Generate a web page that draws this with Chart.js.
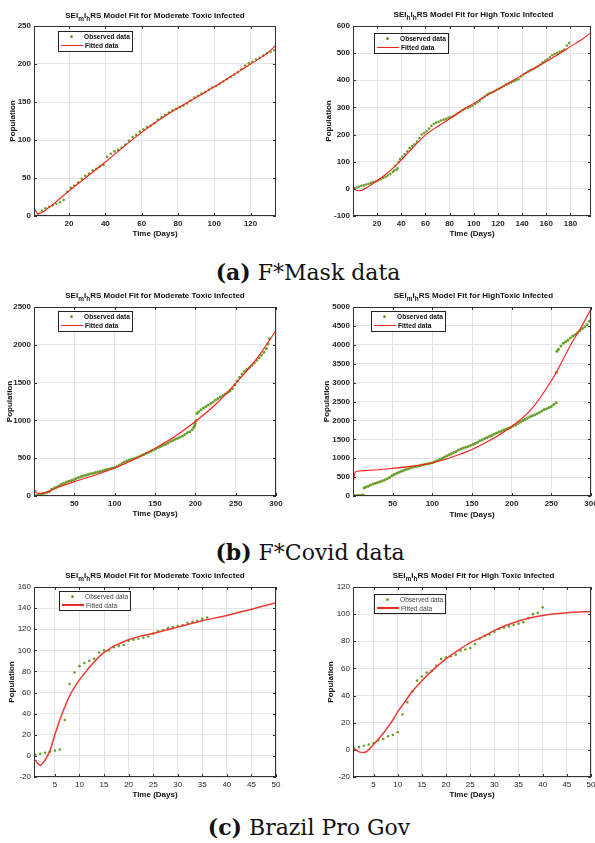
<!DOCTYPE html>
<html>
<head>
<meta charset="utf-8">
<script src="https://cdn.jsdelivr.net/npm/chart.js@4.4.1/dist/chart.umd.min.js"></script>
<style>
body { margin:0; width:595px; height:843px; position:relative; background:#fff; overflow:hidden;
       font-family:"Liberation Sans", Arial, sans-serif; }
canvas { position:absolute; }
.ttl { position:absolute; font-weight:bold; font-size:8px; line-height:10px; color:#111; white-space:nowrap; transform:translateX(-50%); }
.ttl sub { font-size:6.5px; vertical-align:-3px; line-height:0; }
.leg { position:absolute; box-sizing:border-box; border:1px solid #222; background:#fff; font-size:6.6px; color:#111; }
.leg.b { font-weight:bold; }
.leg.n { color:#444; }
.leg span { position:absolute; white-space:nowrap; line-height:8px; }
.dot { width:3px; height:3px; border-radius:50%; background:#6a9f2c; }
.cap { position:absolute; font-family:"DejaVu Serif", "Liberation Serif", serif; font-size:22px; line-height:24px; white-space:nowrap; transform:translateX(-50%); color:#111; }
</style>
</head>
<body>
<script>
// ---------------------------------------------------------------------------
// DONNÉES
// ---------------------------------------------------------------------------

// (a) F*Mask - moderate
const c1ObsDays = [1,3,5,7,9,11,13,15,17,19,21,23,25,27,29,31,33,35,37,39,41,43,45,47,49,51,53,55,57,59,61,63,65,67,69,71,73,75,77,79,81,83,85,87,89,91,93,95,97,99,101,103,105,107,109,111,113,115,117,119,121,123,125,127,129,131,133];
const c1ObsVals = [1,3,7,10,12,14,16,18,21,32,37,40,44,49,53,56,60,62,65,67,78,82,85,87,90,94,99,104,107,111,114,117,119,122,127,130,133,136,139,141,143,145,148,152,156,158,161,163,166,169,171,174,177,180,183,186,189,193,198,201,203,206,208,211,214,216,218];
const c1FitDays = [1,2,3,4,6,8,10,15,20,30,40,50,60,70,80,90,100,110,120,130,134];
const c1FitVals = [10,5,3,3.5,6,9.5,13,23,33,52,71,91,110,127,142,156,170,185,200,216,225];
const c1XTicks = [20,40,60,80,100,120];
const c1YTicks = [0,50,100,150,200,250];

// (a) F*Mask - high
const c2ObsDays = [1,3,5,7,9,11,13,15,17,19,21,23,25,27,29,31,33,34,35,36,37,38,39,41,43,45,47,49,51,53,55,57,59,61,63,65,67,69,71,73,75,77,79,81,83,85,87,89,91,93,95,97,99,101,103,105,107,109,111,113,115,117,119,121,123,125,127,129,131,133,135,137,139,141,143,145,147,149,151,153,155,157,159,161,163,165,167,169,171,173,175,177,179];
const c2ObsVals = [2,5,8,11,13,16,19,22,25,28,31,35,40,44,49,55,62,67,84,70,76,100,110,118,127,138,150,158,164,174,187,200,206,212,222,232,240,244,247,252,255,258,262,265,268,273,279,285,291,296,299,303,306,313,318,325,333,340,347,352,356,360,365,369,374,379,384,388,392,396,400,404,414,421,427,432,437,441,446,451,458,466,472,477,485,492,497,500,505,508,513,528,537];
const c2FitDays = [1,2,5,8,12,20,27,34,40,49,60,70,80,90,100,110,120,130,140,150,160,170,180,190,198];
const c2FitVals = [4,-3,-7,-4,6,30,53,80,106,149,198,230,258,288,315,342,367,393,419,444,469,496,524,552,579];
const c2XTicks = [20,40,60,80,100,120,140,160,180];
const c2YTicks = [-100,0,100,200,300,400,500,600];

// (b) F*Covid - moderate
const c3ObsDays = [1,4,7,10,13,16,19,22,25,28,31,34,37,40,43,46,49,52,55,58,61,64,67,70,73,76,79,82,85,88,91,94,97,100,103,106,109,112,115,118,121,124,127,130,133,136,139,142,145,148,151,154,157,160,163,166,169,172,175,178,181,184,187,190,193,196,198,199,200,201,202,204,207,210,213,216,219,222,225,228,231,234,237,240,243,246,249,252,255,258,261,264,267,270,273,276,279,282,285,288,290,292];
const c3ObsVals = [3,10,20,30,38,48,60,90,105,118,135,155,170,185,195,205,215,230,245,255,265,275,285,293,300,310,318,325,335,345,355,362,370,378,390,410,430,450,462,475,485,495,505,520,535,550,565,580,595,610,625,640,655,670,685,700,720,735,750,765,780,795,815,835,850,875,905,930,960,1000,1090,1115,1140,1165,1185,1205,1225,1245,1270,1290,1310,1330,1350,1370,1390,1420,1470,1520,1570,1615,1650,1675,1700,1730,1760,1795,1830,1865,1900,1950,2010,2080];
const c3FitDays = [1,3,6,10,15,20,30,50,75,100,125,150,175,200,225,250,275,300];
const c3FitVals = [75,45,35,37,45,70,115,190,275,370,490,630,790,985,1210,1490,1800,2190];
const c3XTicks = [50,100,150,200,250,300];
const c3YTicks = [0,500,1000,1500,2000,2500];

// (b) F*Covid - high
const c4ObsDays = [1,3,5,7,9,11,13,14,16,19,22,25,28,31,34,37,40,43,46,49,52,55,58,61,64,67,70,73,76,79,82,85,88,91,94,97,100,103,106,109,112,115,118,121,124,127,130,133,136,139,142,145,148,151,154,157,160,163,166,169,172,175,178,181,184,187,190,193,196,199,202,205,208,211,214,217,220,223,226,229,232,235,238,241,244,247,250,253,256,256.3,257,259,262,265,268,271,274,277,280,283,286,289,292,295,298,300];
const c4ObsVals = [5,8,10,12,15,20,28,210,235,260,290,315,335,355,380,405,425,455,490,535,570,600,630,655,680,700,720,745,765,780,795,810,825,840,855,865,880,905,930,960,990,1025,1060,1090,1120,1150,1180,1215,1245,1270,1290,1310,1335,1360,1390,1420,1460,1490,1520,1550,1580,1610,1640,1665,1690,1720,1745,1770,1790,1820,1850,1880,1915,1955,1995,2030,2065,2095,2120,2150,2175,2210,2250,2290,2310,2340,2365,2420,2470,3270,3830,3880,3970,4040,4080,4120,4180,4230,4270,4320,4380,4430,4480,4540,4620,4690];
const c4FitDays = [1,2,4,15,50,75,100,125,150,175,200,225,250,262,275,288,300];
const c4FitVals = [420,600,650,670,730,790,875,1030,1230,1500,1840,2300,3050,3500,4020,4480,4950];
const c4XTicks = [50,100,150,200,250,300];
const c4YTicks = [0,500,1000,1500,2000,2500,3000,3500,4000,4500,5000];

// (c) Brazil Pro Gov - moderate
const c5ObsDays = [1,2,3,4,5,6,7,8,9,10,11,12,13,14,15,16,17,18,19,20,21,22,23,24,25,26,27,28,29,30,31,32,33,34,35,36];
const c5ObsVals = [1,2,3,4,5,6,34,68,79,85,88,90,92,98,100,100,103,104,105,109,110,111,112,113,116,118,119,121,122,123,124,126,127,128,130,131];
const c5FitDays = [1,2,3,4,5,6,7,8,9,10,11,12,13,14,15,16,17,18,20,22,25,30,35,40,45,50];
const c5FitVals = [-4,-9,-4,5,20,34,46,57,65,72,78,84,89,94,98,101,104,106,110,113,116,122,128,133,139,145];
const c5XTicks = [5,10,15,20,25,30,35,40,45,50];
const c5YTicks = [-20,0,20,40,60,80,100,120,140,160];

// (c) Brazil Pro Gov - high
const c6ObsDays = [1,2,3,4,5,6,7,8,9,10,11,12,13,14,15,16,17,18,19,20,21,22,23,24,25,26,27,28,29,30,31,32,33,34,35,36,37,38,39,40];
const c6ObsVals = [1,2,3,4,5,7,8,10,11,13,26,35,43,51,54,57,58,62,67,68,69,70,73,74,75,78,82,84,85,87,89,90,91,92,93,94,97,100,101,105];
const c6FitDays = [1,2,3,4,5,6,7,8,9,10,11,12,13,14,15,17,20,22,25,28,30,35,40,45,50];
const c6FitVals = [1,-1.5,-2,0,4,8,12,17,22,28,33,38,43,47,51,58,67,72,79,84,88,95,99,101,102];
const c6XTicks = [5,10,15,20,25,30,35,40,45,50];
const c6YTicks = [-20,0,20,40,60,80,100,120];

const titleMod = 'SEI<sub>m</sub>I<sub>h</sub>RS Model Fit for Moderate Toxic Infected';

// ---------------------------------------------------------------------------
// MISE EN PAGE DES 6 GRAPHIQUES
// ---------------------------------------------------------------------------
const panels = [
  { left:0,   cw:300, area:[34,26,276,216],  yTitleX:12.3,  xTitleY:234.3, titleY:15.7,
    title:titleMod, x:[0.7,134], y:[0,250], xt:c1XTicks, yt:c1YTicks,
    obs:[c1ObsDays,c1ObsVals], fit:[c1FitDays,c1FitVals], legend:[58,31,75,21], bold:true },
  { left:300, cw:295, area:[353,26,594,216], yTitleX:329,   xTitleY:234.5, titleY:15.3,
    title:'SEI<sub>h</sub>I<sub>h</sub>RS Model Fit for High Toxic Infected', x:[0.1,197], y:[-100,600], xt:c2XTicks, yt:c2YTicks,
    obs:[c2ObsDays,c2ObsVals], fit:[c2FitDays,c2FitVals], legend:[374,33,75,21], bold:true },
  { left:0,   cw:300, area:[34,307,276,496], yTitleX:9.7,   xTitleY:514.3, titleY:296,
    title:titleMod, x:[0,300], y:[0,2500], xt:c3XTicks, yt:c3YTicks,
    obs:[c3ObsDays,c3ObsVals], fit:[c3FitDays,c3FitVals], legend:[58,311,75,21], bold:true, r:1.5 },
  { left:300, cw:295, area:[353,307,594,496], yTitleX:327,  xTitleY:515,   titleY:296,
    title:'SEI<sub>m</sub>I<sub>h</sub>RS Model Fit for HighToxic Infected', x:[0,300], y:[0,5000], xt:c4XTicks, yt:c4YTicks,
    obs:[c4ObsDays,c4ObsVals], fit:[c4FitDays,c4FitVals], legend:[371,311,75,21], bold:true, r:1.5 },
  { left:0,   cw:300, area:[34,587,276,777], yTitleX:11.7,  xTitleY:795,   titleY:576,
    title:titleMod, x:[0.75,50], y:[-20,160], xt:c5XTicks, yt:c5YTicks,
    obs:[c5ObsDays,c5ObsVals], fit:[c5FitDays,c5FitVals], legend:[59,591,72,20], bold:false },
  { left:300, cw:295, area:[353,587,594,777], yTitleX:330.7, xTitleY:795.3, titleY:576,
    title:'SEI<sub>m</sub>I<sub>h</sub>RS Model Fit for High Toxic Infected', x:[0.75,50], y:[-20,120], xt:c6XTicks, yt:c6YTicks,
    obs:[c6ObsDays,c6ObsVals], fit:[c6FitDays,c6FitVals], legend:[374,594,72,20], bold:false }
];

const captions = [
  { html:'<b>(a)</b> F*Mask data',   x:308, y:272 },
  { html:'<b>(b)</b> F*Covid data',  x:310, y:552 },
  { html:'<b>(c)</b> Brazil Pro Gov', x:309, y:827 }
];

const GREEN = '#6a9f2c';
const AX_FONT = 8;
const HALF = AX_FONT * 1.2 / 2;

Chart.defaults.font.family = '"Liberation Sans", Arial, sans-serif';

// cadre + graduations internes (style MATLAB "box on")
const framePlugin = {
  id: 'frame',
  afterDraw(chart) {
    const { ctx, chartArea: a, scales: { x, y } } = chart;
    ctx.save();
    ctx.strokeStyle = '#333';
    ctx.lineWidth = 1;
    ctx.strokeRect(a.left + 0.5, a.top + 0.5, a.right - a.left - 1, a.bottom - a.top - 1);
    ctx.beginPath();
    x.ticks.forEach(t => {
      const px = Math.round(x.getPixelForValue(t.value)) + 0.5;
      ctx.moveTo(px, a.bottom); ctx.lineTo(px, a.bottom - 3);
      ctx.moveTo(px, a.top); ctx.lineTo(px, a.top + 3);
    });
    y.ticks.forEach(t => {
      const py = Math.round(y.getPixelForValue(t.value)) + 0.5;
      ctx.moveTo(a.left, py); ctx.lineTo(a.left + 3, py);
      ctx.moveTo(a.right, py); ctx.lineTo(a.right - 3, py);
    });
    ctx.stroke();
    ctx.restore();
  }
};

function addLegend(p) {
  const [x, y, w, h] = p.legend;
  const box = document.createElement('div');
  box.className = 'leg ' + (p.bold ? 'b' : 'n');
  box.style.cssText = `left:${x}px;top:${y}px;width:${w}px;height:${h}px`;
  const lw = p.bold ? 1 : 1.5;
  box.innerHTML =
    `<span class="dot" style="left:11px;top:3px"></span>` +
    `<span style="left:25px;top:1px">Observed data</span>` +
    `<span style="left:2px;top:${13 - lw / 2}px;width:22px;height:${lw}px;background:#ee2a24"></span>` +
    `<span style="left:26px;top:9.5px">Fitted data</span>`;
  document.body.appendChild(box);
}

panels.forEach(p => {
  const top = p.area[1] - 7;
  const h = Math.round(p.xTitleY + HALF - top);
  const cv = document.createElement('canvas');
  cv.width = p.cw;
  cv.height = h;
  cv.style.left = p.left + 'px';
  cv.style.top = top + 'px';
  document.body.appendChild(cv);

  const padL = p.yTitleX - HALF - p.left;
  const yW = p.area[0] - p.left - padL;
  const xH = top + h - p.area[3];
  const padR = p.left + p.cw - p.area[2];

  const tickFont = { size: 8, weight: p.bold ? 'bold' : 'normal' };
  const axTitle = (txt) => ({ display: true, text: txt, color: '#111', padding: 0,
                              font: { size: AX_FONT, weight: 'bold', lineHeight: 1.2 } });

  new Chart(cv, {
    type: 'scatter',
    data: {
      datasets: [
        {
          label: 'Observed data',
          data: p.obs[0].map((d, i) => ({ x: d, y: p.obs[1][i] })),
          pointRadius: p.r || 1.3,
          pointBackgroundColor: GREEN,
          pointBorderWidth: 0,
          showLine: false,
          order: 1
        },
        {
          label: 'Fitted data',
          data: p.fit[0].map((d, i) => ({ x: d, y: p.fit[1][i] })),
          showLine: true,
          pointRadius: 0,
          borderColor: p.bold ? '#ff1a1a' : '#ec3a33',
          borderWidth: p.bold ? 1.1 : 1.5,
          cubicInterpolationMode: 'monotone',
          order: 0
        }
      ]
    },
    options: {
      responsive: false,
      animation: false,
      layout: { padding: { top: 7, left: padL, right: padR, bottom: 0 } },
      plugins: { legend: { display: false }, tooltip: { enabled: false } },
      scales: {
        x: {
          type: 'linear', min: p.x[0], max: p.x[1],
          afterBuildTicks(s) { s.ticks = p.xt.map(v => ({ value: v })); },
          ticks: { color: '#262626', font: tickFont, padding: 3, maxRotation: 0, autoSkip: false,
                   callback: v => String(v) },
          grid: { color: '#e4e4e4', drawTicks: false },
          border: { display: false },
          title: axTitle('Time (Days)'),
          afterFit(s) { s.height = xH; s.paddingLeft = 0; s.paddingRight = 0; }
        },
        y: {
          type: 'linear', min: p.y[0], max: p.y[1],
          afterBuildTicks(s) { s.ticks = p.yt.map(v => ({ value: v })); },
          ticks: { color: '#262626', font: tickFont, padding: 3, autoSkip: false,
                   callback: v => String(v) },
          grid: { color: '#e4e4e4', drawTicks: false },
          border: { display: false },
          title: axTitle('Population'),
          afterFit(s) { s.width = yW; s.paddingTop = 0; s.paddingBottom = 0; }
        }
      }
    },
    plugins: [framePlugin]
  });

  const t = document.createElement('div');
  t.className = 'ttl';
  t.style.left = ((p.area[0] + p.area[2]) / 2) + 'px';
  t.style.top = (p.titleY - 5) + 'px';
  t.innerHTML = p.title;
  document.body.appendChild(t);

  addLegend(p);
});

captions.forEach(c => {
  const d = document.createElement('div');
  d.className = 'cap';
  d.style.left = c.x + 'px';
  d.style.top = (c.y - 12) + 'px';
  d.innerHTML = c.html;
  document.body.appendChild(d);
});
</script>
</body>
</html>
